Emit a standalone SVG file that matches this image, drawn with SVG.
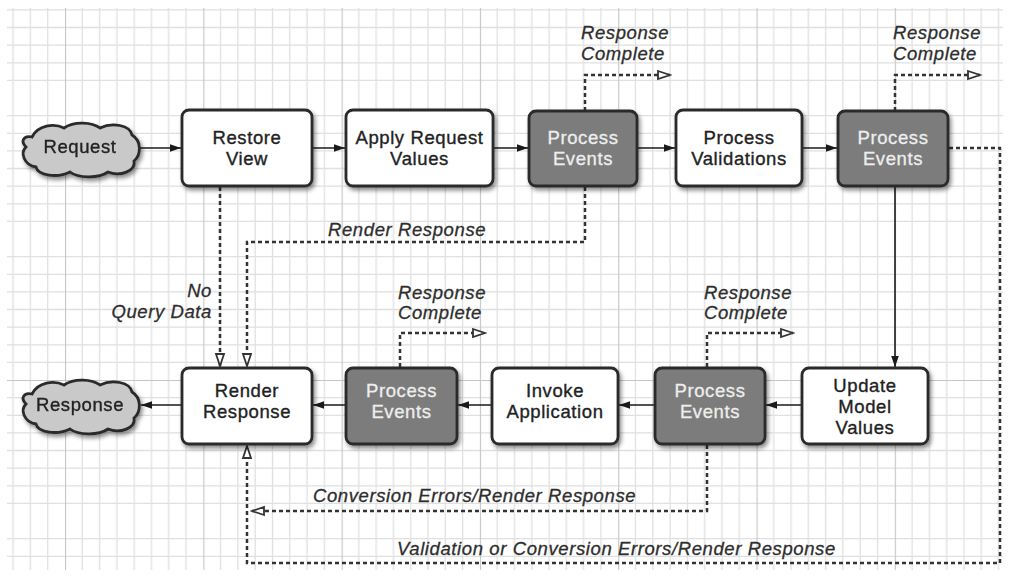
<svg xmlns="http://www.w3.org/2000/svg" width="1009" height="576" viewBox="0 0 1009 576">
  <defs>
    <pattern id="grid" patternUnits="userSpaceOnUse" x="-73.3" y="-43" width="138.3" height="141">
      <g stroke="#e0e0e0" stroke-width="1.3" fill="none">
        <path d="M17.3,0V141M34.6,0V141M51.9,0V141M69.2,0V141M86.4,0V141M103.7,0V141M121,0V141"/>
        <path d="M0,17.6H138.3M0,35.3H138.3M0,52.9H138.3M0,70.5H138.3M0,88.1H138.3M0,105.8H138.3M0,123.4H138.3"/>
      </g>
      <g stroke="#c6c6c6" stroke-width="2.2" fill="none">
        <path d="M0,0V141M0,0H138.3"/>
      </g>
    </pattern>
    <filter id="shadow" x="-10%" y="-10%" width="130%" height="140%">
      <feDropShadow dx="2" dy="3" stdDeviation="2" flood-color="#000" flood-opacity="0.45"/>
    </filter>
    <marker id="solid" markerWidth="12" markerHeight="10" refX="11" refY="5" orient="auto" markerUnits="userSpaceOnUse">
      <path d="M0,1.2 L11,5 L0,8.8 Z" fill="#1a1a1a"/>
    </marker>
    <marker id="open" markerWidth="16" markerHeight="12" refX="14" refY="6" orient="auto" markerUnits="userSpaceOnUse">
      <path d="M2,2 L14,6 L2,10 Z" fill="#fff" stroke="#333" stroke-width="1.8"/>
    </marker>
    <path id="cloud" d="M12,18 C18,6 34,4 44,9 C54,2 72,3 80,9 C92,3 110,6 112,16 C122,22 121,36 114,42 C116,52 100,58 88,53 C78,60 58,59 50,53 C38,59 18,57 16,48 C4,46 0,34 6,28 C0,22 4,16 12,18 Z"/>
  </defs>
  <style>
    .box { fill: #ffffff; stroke: #2a2a2a; stroke-width: 2.8; }
    .dark { fill: #7b7b7b; stroke: #2a2a2a; stroke-width: 2.8; }
    .cloudshape { fill: #c9c9c9; stroke: #2a2a2a; stroke-width: 2.8; }
    .t { font-family: "Liberation Sans", Arial, sans-serif; font-size: 18.5px; letter-spacing: 0.6px; fill: #222; stroke: #222; stroke-width: 0.35; text-anchor: middle; }
    .tw { fill: #eeeeee; stroke: #eeeeee; stroke-width: 0.3; }
    .lbl { font-family: "Liberation Sans", Arial, sans-serif; font-size: 18.5px; letter-spacing: 0.6px; font-style: italic; fill: #2e2e2e; stroke: #2e2e2e; stroke-width: 0.3; }
    .arrow { stroke: #1a1a1a; stroke-width: 1.6; fill: none; marker-end: url(#solid); }
    .dashA { stroke: #333; stroke-width: 2.5; fill: none; stroke-dasharray: 4 3; marker-end: url(#open); }
  </style>

  <rect x="0" y="0" width="1009" height="576" fill="#fff"/>
  <rect x="7" y="8" width="996" height="562" fill="url(#grid)"/>

  <g id="connectors">
    <path class="arrow" d="M140,148 H181"/>
    <path class="arrow" d="M312,148 H345"/>
    <path class="arrow" d="M493,148 H528"/>
    <path class="arrow" d="M637,148 H675"/>
    <path class="arrow" d="M802,148 H837"/>
    <path class="arrow" d="M895,186 V367"/>
    <path class="arrow" d="M802,405 H766"/>
    <path class="arrow" d="M655,405 H619"/>
    <path class="arrow" d="M492,405 H458"/>
    <path class="arrow" d="M346,405 H313"/>
    <path class="arrow" d="M182,405 H141"/>

    <path class="dashA" d="M585,111 V75 H670"/>
    <path class="dashA" d="M895,111 V75 H980"/>
    <path class="dashA" d="M400,367 V333 H485"/>
    <path class="dashA" d="M707,367 V333 H793"/>
    <path class="dashA" d="M220,187 V366"/>
    <path class="dashA" d="M585,187 V242 H247 V366"/>
    <path class="dashA" d="M949,148 H1000 V563 H247 V446"/>
    <path class="dashA" d="M707,445 V511 H252"/>
  </g>

  <g id="request" filter="url(#shadow)">
    <use href="#cloud" class="cloudshape" transform="translate(20,119)"/>
    <text class="t" x="80" y="153">Request</text>
  </g>
  <g id="restore-view">
    <rect class="box" x="182" y="110" width="130" height="76" rx="7" filter="url(#shadow)"/>
    <text class="t" x="247" y="144">Restore</text>
    <text class="t" x="247" y="165">View</text>
  </g>
  <g id="apply-request-values">
    <rect class="box" x="346" y="110" width="147" height="76" rx="7" filter="url(#shadow)"/>
    <text class="t" x="419.5" y="144">Apply Request</text>
    <text class="t" x="419.5" y="165">Values</text>
  </g>
  <g id="process-events-1">
    <rect class="dark" x="529" y="111" width="108" height="75" rx="7" filter="url(#shadow)"/>
    <text class="t tw" x="583" y="144">Process</text>
    <text class="t tw" x="583" y="165">Events</text>
  </g>
  <g id="process-validations">
    <rect class="box" x="676" y="110" width="126" height="76" rx="7" filter="url(#shadow)"/>
    <text class="t" x="739" y="144">Process</text>
    <text class="t" x="739" y="165">Validations</text>
  </g>
  <g id="process-events-2">
    <rect class="dark" x="838" y="111" width="110" height="75" rx="7" filter="url(#shadow)"/>
    <text class="t tw" x="893" y="144">Process</text>
    <text class="t tw" x="893" y="165">Events</text>
  </g>

  <g id="response" filter="url(#shadow)">
    <use href="#cloud" class="cloudshape" transform="translate(20,376)"/>
    <text class="t" x="80" y="411">Response</text>
  </g>
  <g id="render-response">
    <rect class="box" x="182" y="368" width="130" height="76" rx="7" filter="url(#shadow)"/>
    <text class="t" x="247" y="397">Render</text>
    <text class="t" x="247" y="418">Response</text>
  </g>
  <g id="process-events-3">
    <rect class="dark" x="346" y="368" width="111" height="76" rx="7" filter="url(#shadow)"/>
    <text class="t tw" x="401.5" y="397">Process</text>
    <text class="t tw" x="401.5" y="418">Events</text>
  </g>
  <g id="invoke-application">
    <rect class="box" x="492" y="368" width="126" height="76" rx="7" filter="url(#shadow)"/>
    <text class="t" x="555" y="397">Invoke</text>
    <text class="t" x="555" y="418">Application</text>
  </g>
  <g id="process-events-4">
    <rect class="dark" x="655" y="368" width="110" height="76" rx="7" filter="url(#shadow)"/>
    <text class="t tw" x="710" y="397">Process</text>
    <text class="t tw" x="710" y="418">Events</text>
  </g>
  <g id="update-model-values">
    <rect class="box" x="802" y="368" width="126" height="76" rx="7" filter="url(#shadow)"/>
    <text class="t" x="865" y="392">Update</text>
    <text class="t" x="865" y="413">Model</text>
    <text class="t" x="865" y="434">Values</text>
  </g>

  <g id="labels">
    <text class="lbl" x="581" y="39">Response</text>
    <text class="lbl" x="581" y="60">Complete</text>
    <text class="lbl" x="893" y="39">Response</text>
    <text class="lbl" x="893" y="60">Complete</text>
    <text class="lbl" x="398" y="299">Response</text>
    <text class="lbl" x="398" y="319">Complete</text>
    <text class="lbl" x="704" y="299">Response</text>
    <text class="lbl" x="704" y="319">Complete</text>
    <text class="lbl" x="328" y="236">Render Response</text>
    <text class="lbl" x="212" y="297" text-anchor="end">No</text>
    <text class="lbl" x="212" y="318" text-anchor="end">Query Data</text>
    <text class="lbl" x="313" y="502">Conversion Errors/Render Response</text>
    <text class="lbl" x="397" y="555">Validation or Conversion Errors/Render Response</text>
  </g>
</svg>
